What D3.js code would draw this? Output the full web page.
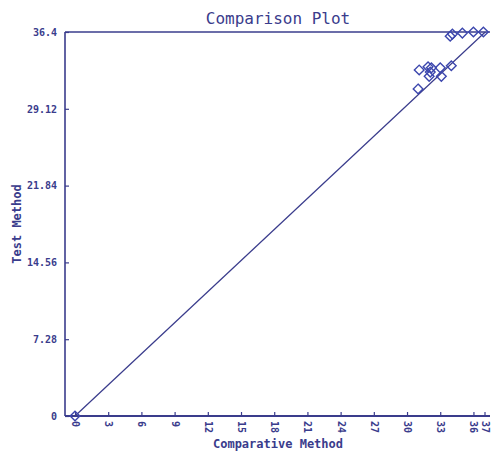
<!DOCTYPE html>
<html>
<head>
<meta charset="utf-8">
<script src="https://cdn.jsdelivr.net/npm/d3@7"></script>
<style>
  html, body { margin: 0; padding: 0; background: #fff; }
  svg { display: block; }
</style>
</head>
<body>
<script>
// Comparative method (x) vs test method (y) results
const comparative = [0, 31.0, 31.1, 31.9, 32.2, 32.1, 32.0, 33.0, 33.1, 34.0, 33.9, 34.1, 35.0, 36.0, 36.9];
const test        = [0, 31.0, 32.8, 33.1, 33.0, 32.6, 32.2, 33.0, 32.2, 33.2, 36.0, 36.2, 36.3, 36.4, 36.4];

const xTicks = [0, 3, 6, 9, 12, 15, 18, 21, 24, 27, 30, 33, 36, 37];
const yTicks = [0, 7.28, 14.56, 21.84, 29.12, 36.4];
const xTickLabels = ["0", "3", "6", "9", "12", "15", "18", "21", "24", "27", "30", "33", "36", "37"];
const yTickLabels = ["0", "7.28", "14.56", "21.84", "29.12", "36.4"];

// fitted line: test = slope * comparative + intercept
const fitSlope = 0.982;
const fitIntercept = 0;

const W = 491, H = 454;
const frame = { left: 65, right: 490, top: 32, bottom: 416 };
const ink = "#3a3c8c";
const markInk = "#3b46ad";
const mono = "'DejaVu Sans Mono', 'Liberation Mono', monospace";

const svg = d3.select("body").append("svg").attr("width", W).attr("height", H);

const x = d3.scaleLinear().domain([0, 37]).range([75, 484.5]);
const y = d3.scaleLinear().domain([0, 36.4]).range([frame.bottom, frame.top]);

// frame lines: left, top
svg.append("line").attr("x1", frame.left).attr("x2", frame.left)
  .attr("y1", frame.top).attr("y2", frame.bottom)
  .attr("stroke", ink).attr("stroke-width", 1.6);
svg.append("line").attr("x1", frame.left).attr("x2", frame.right)
  .attr("y1", frame.top).attr("y2", frame.top)
  .attr("stroke", ink).attr("stroke-width", 1.6);

// x axis
const xAxis = d3.axisBottom(x).tickValues(xTicks).tickSize(-4).tickSizeOuter(0)
  .tickFormat((d, i) => xTickLabels[i]);
const gx = svg.append("g").attr("transform", `translate(0,${frame.bottom})`).call(xAxis);
gx.select(".domain").remove();
gx.append("line").attr("x1", frame.left).attr("x2", frame.right)
  .attr("stroke", ink).attr("stroke-width", 1.8);
gx.selectAll(".tick line").attr("stroke", ink).attr("stroke-width", 1.2);
gx.selectAll(".tick text")
  .attr("fill", ink).attr("font-family", mono).attr("font-size", 10).attr("font-weight", "bold")
  .attr("transform", "rotate(90)")
  .attr("x", 5).attr("y", 0).attr("dy", "0.35em")
  .attr("text-anchor", "start");

// y axis
const yAxis = d3.axisLeft(y).tickValues(yTicks).tickSize(-4).tickSizeOuter(0)
  .tickFormat((d, i) => yTickLabels[i]);
const gy = svg.append("g").attr("transform", `translate(${frame.left},0)`).call(yAxis);
gy.select(".domain").remove();
gy.selectAll(".tick line").attr("stroke", ink).attr("stroke-width", 1.2);
gy.selectAll(".tick text")
  .attr("fill", ink).attr("font-family", mono).attr("font-size", 10).attr("font-weight", "bold")
  .attr("x", -8);

// fitted line clipped to the plot frame
svg.append("clipPath").attr("id", "plotClip").append("rect")
  .attr("x", frame.left).attr("y", frame.top)
  .attr("width", frame.right - frame.left).attr("height", frame.bottom - frame.top);
const fitX = [0, 40];
svg.append("line")
  .attr("clip-path", "url(#plotClip)")
  .attr("x1", x(fitX[0])).attr("y1", y(fitSlope * fitX[0] + fitIntercept))
  .attr("x2", x(fitX[1])).attr("y2", y(fitSlope * fitX[1] + fitIntercept))
  .attr("stroke", ink).attr("stroke-width", 1.3);

// diamond markers
const diamond = d3.symbol().type(d3.symbolDiamond2).size(60);
svg.append("g").selectAll("path")
  .data(comparative.map((c, i) => [c, test[i]]))
  .join("path")
  .attr("d", diamond)
  .attr("transform", d => `translate(${x(d[0])},${y(d[1])})`)
  .attr("fill", "none")
  .attr("stroke", markInk)
  .attr("stroke-width", 1.4);

// titles
svg.append("text").text("Comparison Plot")
  .attr("x", 278).attr("y", 24).attr("text-anchor", "middle")
  .attr("font-family", mono).attr("font-size", 16).attr("fill", ink);
svg.append("text").text("Comparative Method")
  .attr("x", 278).attr("y", 448).attr("text-anchor", "middle")
  .attr("font-family", mono).attr("font-size", 12).attr("font-weight", "bold").attr("fill", ink);
svg.append("text").text("Test Method")
  .attr("transform", "translate(21,224) rotate(-90)").attr("text-anchor", "middle")
  .attr("font-family", mono).attr("font-size", 12).attr("font-weight", "bold").attr("fill", ink);
</script>
</body>
</html>
